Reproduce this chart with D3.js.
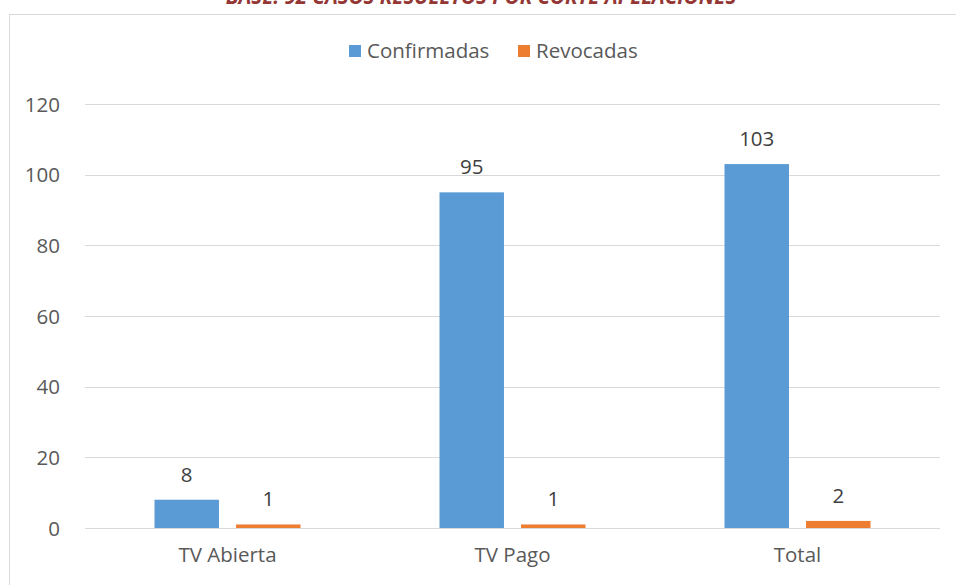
<!DOCTYPE html>
<html><head><meta charset="utf-8">
<script src="https://cdn.jsdelivr.net/npm/d3@7"></script>
<style>body{margin:0;background:#fff}svg{display:block}</style>
</head><body>
<svg id="c" width="956" height="585"></svg>
<script>
const title = "BASE: 92 CASOS RESUELTOS POR CORTE APELACIONES";
const categories = ["TV Abierta", "TV Pago", "Total"];
const seriesNames = ["Confirmadas", "Revocadas"];
const confirmadas = [8, 95, 103];
const revocadas = [1, 1, 2];
const yTicks = [0, 20, 40, 60, 80, 100, 120];
const colors = ["#5B9BD5", "#ED7D31"];

const svg = d3.select("#c");
const font = "'Open Sans', sans-serif";
const W = 956, H = 585;
const m = {left: 85, right: 16, top: 104, bottom: 57};

// chart border
svg.append("rect").attr("x", 9.5).attr("y", 14.5).attr("width", 960).attr("height", 600)
  .attr("fill", "#fff").attr("stroke", "#D9D9D9").attr("stroke-width", 1);

// title (partially cut at top, as in the reference)
svg.append("text").attr("x", 481).attr("y", 4).attr("text-anchor", "middle")
  .attr("font-family", font).attr("font-size", 20.5).attr("font-weight", "bold").attr("font-style", "italic")
  .attr("fill", "#943634").text(title);

const x0 = d3.scaleBand().domain(categories).range([m.left, W - m.right]).paddingInner(0.4877).paddingOuter(0.24385);
const x1 = d3.scaleBand().domain(seriesNames).range([0, x0.bandwidth()]).paddingInner(0.209);
const y = d3.scaleLinear().domain([0, 120]).range([H - m.bottom, m.top]);

// gridlines
svg.append("g").selectAll("line").data(yTicks).join("line")
  .attr("x1", m.left).attr("x2", W - m.right)
  .attr("y1", d => Math.round(y(d)) + 0.5).attr("y2", d => Math.round(y(d)) + 0.5)
  .attr("stroke", "#D9D9D9").attr("stroke-width", 1);

// y axis labels
const yAxis = d3.axisLeft(y).tickValues(yTicks).tickSize(0).tickPadding(0);
const gy = svg.append("g").attr("transform", `translate(${m.left - 25},0)`).call(yAxis);
gy.select(".domain").remove();
gy.selectAll("text").attr("font-family", font).attr("font-size", 20.5).attr("fill", "#595959").attr("dy", "0.35em");

// x axis labels
const xAxis = d3.axisBottom(x0).tickSize(0).tickPadding(0);
const gx = svg.append("g").attr("transform", `translate(0,${H - m.bottom + 19})`).call(xAxis);
gx.select(".domain").remove();
gx.selectAll("text").attr("font-family", font).attr("font-size", 20.5).attr("fill", "#595959").attr("dy", "0.71em");

const data = categories.map((c, i) => ({cat: c, vals: [confirmadas[i], revocadas[i]]}));
const groups = svg.append("g").selectAll("g").data(data).join("g")
  .attr("transform", d => `translate(${x0(d.cat)},0)`);

groups.selectAll("rect").data(d => d.vals.map((v, j) => ({s: seriesNames[j], v, j}))).join("rect")
  .attr("x", d => x1(d.s)).attr("width", x1.bandwidth())
  .attr("y", d => y(d.v)).attr("height", d => y(0) - y(d.v))
  .attr("fill", d => colors[d.j]);

groups.selectAll("text").data(d => d.vals.map((v, j) => ({s: seriesNames[j], v, j}))).join("text")
  .attr("x", d => x1(d.s) + x1.bandwidth() / 2).attr("y", d => y(d.v) - 18)
  .attr("text-anchor", "middle").attr("font-family", font).attr("font-size", 20.5).attr("fill", "#404040")
  .text(d => d.v);

// legend
const leg = svg.append("g");
const legItems = [{n: seriesNames[0], x: 349}, {n: seriesNames[1], x: 518}];
legItems.forEach((it, i) => {
  leg.append("rect").attr("x", it.x).attr("y", 45).attr("width", 12).attr("height", 12).attr("fill", colors[i]);
  leg.append("text").attr("x", it.x + 18).attr("y", 51).attr("dy", "0.35em")
    .attr("font-family", font).attr("font-size", 20.5).attr("fill", "#595959").text(it.n);
});
</script>
</body></html>
